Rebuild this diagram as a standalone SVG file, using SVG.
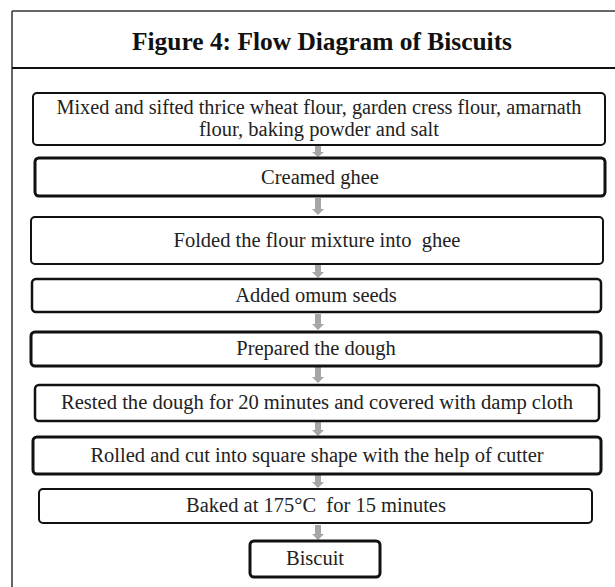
<svg xmlns="http://www.w3.org/2000/svg" width="615" height="587" viewBox="0 0 615 587">
<style>
.frame{stroke:#333;stroke-width:1.5;fill:none}
.box{fill:#fff;stroke:#111}
.t{font-family:"Liberation Serif","Times New Roman",serif;font-size:20.5px;fill:#222;text-anchor:middle}
.title{font-family:"Liberation Serif","Times New Roman",serif;font-size:26px;font-weight:bold;fill:#111;text-anchor:middle}
.arr{fill:#a6a6a6}
</style>
<rect width="615" height="587" fill="#fff"/>
<g id="frame">
<line class="frame" x1="12" y1="11" x2="615" y2="11"/>
<line class="frame" x1="12" y1="11" x2="12" y2="587"/>
<line x1="12" y1="68" x2="615" y2="68" stroke="#111" stroke-width="2"/>
<text class="title" x="322" y="50" textLength="380" lengthAdjust="spacingAndGlyphs">Figure 4: Flow Diagram of Biscuits</text>
</g>
<g id="connectors">
<path class="arr" d="M315,146 h6 v6 h3 l-6,5 l-6,-5 h3 z"/>
<path class="arr" d="M315,198 h6 v11 h3 l-6,6 l-6,-6 h3 z"/>
<path class="arr" d="M315,265 h6 v7 h3 l-6,6 l-6,-6 h3 z"/>
<path class="arr" d="M315,314 h6 v10 h3 l-6,6 l-6,-6 h3 z"/>
<path class="arr" d="M315,367 h6 v10 h3 l-6,6 l-6,-6 h3 z"/>
<path class="arr" d="M315,422 h6 v8 h3 l-6,6 l-6,-6 h3 z"/>
<path class="arr" d="M315,475 h6 v7 h3 l-6,6 l-6,-6 h3 z"/>
<path class="arr" d="M315,525 h6 v9 h3 l-6,6 l-6,-6 h3 z"/>
</g>
<g id="n1"><rect class="box" x="33" y="93" width="572" height="52" rx="4" stroke-width="2"/>
<text class="t" x="319" y="114" textLength="525" lengthAdjust="spacingAndGlyphs">Mixed and sifted thrice wheat flour, garden cress flour, amarnath</text>
<text class="t" x="319" y="136">flour, baking powder and salt</text></g>
<g id="n2"><rect class="box" x="35" y="158" width="570" height="38" rx="4" stroke-width="3"/>
<text class="t" x="320" y="184">Creamed ghee</text></g>
<g id="n3"><rect class="box" x="31" y="217" width="572" height="47" rx="4" stroke-width="2"/>
<text class="t" x="317" y="247" xml:space="preserve">Folded the flour mixture into  ghee</text></g>
<g id="n4"><rect class="box" x="32" y="279" width="569" height="33" rx="4" stroke-width="2.5"/>
<text class="t" x="316" y="302">Added omum seeds</text></g>
<g id="n5"><rect class="box" x="31" y="332" width="570" height="34" rx="4" stroke-width="3"/>
<text class="t" x="316" y="355">Prepared the dough</text></g>
<g id="n6"><rect class="box" x="35" y="385" width="564" height="36" rx="4" stroke-width="2.5"/>
<text class="t" x="317" y="409" textLength="512" lengthAdjust="spacingAndGlyphs">Rested the dough for 20 minutes and covered with damp cloth</text></g>
<g id="n7"><rect class="box" x="33" y="437" width="568" height="37" rx="4" stroke-width="3"/>
<text class="t" x="317" y="462">Rolled and cut into square shape with the help of cutter</text></g>
<g id="n8"><rect class="box" x="39" y="489" width="553" height="34" rx="4" stroke-width="2"/>
<text class="t" x="316" y="512" xml:space="preserve">Baked at 175°C  for 15 minutes</text></g>
<g id="n9"><rect class="box" x="250" y="541" width="130" height="36" rx="4" stroke-width="3"/>
<text class="t" x="315" y="565">Biscuit</text></g>
</svg>
